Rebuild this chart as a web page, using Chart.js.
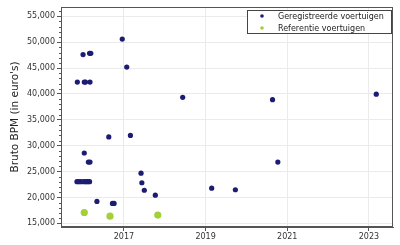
<!DOCTYPE html>
<html>
<head>
<meta charset="utf-8">
<script src="https://cdn.jsdelivr.net/npm/chart.js@4"></script>
<style>
  html, body { margin: 0; padding: 0; background: #fff; }
  #wrap { width: 400px; height: 245px; }
</style>
</head>
<body>
<div id="wrap"><canvas id="chart" width="400" height="245"></canvas></div>
<script>
// registered vehicles: year of registration vs gross BPM
const regYears = [
  2015.86, 2016.03, 2016.06, 2016.17, 2016.00, 2016.16, 2016.19, 2016.96, 2017.07,
  2018.44, 2020.64, 2023.18, 2016.63, 2017.16, 2016.03, 2016.13, 2016.17,
  2015.85, 2015.90, 2015.95, 2016.02, 2016.07, 2016.11, 2016.16,
  2017.42, 2017.44, 2017.50, 2017.77, 2016.34, 2016.72, 2016.76,
  2019.15, 2019.73, 2020.77
];
const regBpm = [
  42300, 42300, 42300, 42300, 47600, 47850, 47850, 50600, 45200,
  39350, 38900, 39950, 31700, 32000, 28600, 26850, 26850,
  23050, 23050, 23050, 23050, 23050, 23050, 23050,
  24700, 22850, 21400, 20450, 19250, 18850, 18850,
  21800, 21500, 26850
];

// reference vehicles
const refYears = [2016.03, 2016.66, 2017.83];
const refBpm = [17100, 16400, 16600];

const yearTicks = [2017, 2019, 2021, 2023];
const bpmTicks = [15000, 20000, 25000, 30000, 35000, 40000, 45000, 50000, 55000];

const toPoints = (xs, ys) => xs.map((x, i) => ({ x: x, y: ys[i] }));

const FONT = 'DejaVu Sans';
const AXIS = '#555';

// frame, minor ticks and legend box
const extras = {
  id: 'extras',
  afterDraw(chart) {
    const { ctx, chartArea: a } = chart;
    const y = chart.scales.y;
    ctx.save();
    ctx.strokeStyle = AXIS;
    ctx.lineWidth = 1;
    ctx.strokeRect(a.left + 0.5, a.top + 0.5, a.right - a.left - 1, a.bottom - a.top - 1);

    // minor ticks every 1000
    ctx.beginPath();
    for (let v = 15000; v <= 56000; v += 1000) {
      if (v % 5000 === 0) continue;
      const py = Math.round(y.getPixelForValue(v)) + 0.5;
      ctx.moveTo(a.left - 2, py);
      ctx.lineTo(a.left, py);
    }
    ctx.stroke();

    // legend
    const lx = 247, ly = 10, lw = 144, lh = 23;
    ctx.fillStyle = '#fff';
    ctx.fillRect(lx, ly, lw, lh);
    ctx.strokeStyle = '#444';
    ctx.strokeRect(lx + 0.5, ly + 0.5, lw, lh);
    ctx.font = '8px "' + FONT + '"';
    ctx.textBaseline = 'middle';
    chart.data.datasets.forEach((ds, i) => {
      const cy = ly + 6 + i * 12;
      ctx.fillStyle = ds.backgroundColor;
      ctx.beginPath();
      ctx.arc(lx + 15, cy, 1.8, 0, Math.PI * 2);
      ctx.fill();
      ctx.fillStyle = '#222';
      ctx.fillText(ds.label, lx + 31, cy + 0.5);
    });
    ctx.restore();
  }
};

new Chart(document.getElementById('chart'), {
  type: 'scatter',
  data: {
    datasets: [
      {
        label: 'Geregistreerde voertuigen',
        data: toPoints(regYears, regBpm),
        backgroundColor: '#1c1c72',
        borderColor: '#1c1c72',
        pointRadius: 2.6,
        borderWidth: 0
      },
      {
        label: 'Referentie voertuigen',
        data: toPoints(refYears, refBpm),
        backgroundColor: '#a3cf3a',
        borderColor: '#a3cf3a',
        pointRadius: 3.6,
        borderWidth: 0
      }
    ]
  },
  options: {
    responsive: false,
    animation: false,
    events: [],
    layout: { padding: { top: 7, right: 7, left: 0, bottom: 0 } },
    plugins: { legend: { display: false }, tooltip: { enabled: false } },
    scales: {
      x: {
        type: 'linear',
        min: 2015.46,
        max: 2023.59,
        afterBuildTicks: s => { s.ticks = yearTicks.map(v => ({ value: v })); },
        afterFit: s => { s.height = 18; },
        ticks: {
          font: { family: FONT, size: 8 },
          color: '#333',
          padding: 1,
          maxRotation: 0,
          callback: v => String(v)
        },
        grid: { color: '#ebebeb', tickColor: AXIS, tickLength: 4 },
        border: { color: AXIS }
      },
      y: {
        min: 14300,
        max: 56800,
        afterBuildTicks: s => { s.ticks = bpmTicks.map(v => ({ value: v })); },
        afterFit: s => { s.width = 61; },
        ticks: {
          font: { family: FONT, size: 8 },
          color: '#333',
          padding: 2,
          callback: v => v.toLocaleString('en-US')
        },
        grid: { color: '#ebebeb', tickColor: AXIS, tickLength: 4 },
        border: { color: AXIS },
        title: {
          display: true,
          text: "Bruto BPM (in euro's)",
          font: { family: FONT, size: 10.5 },
          color: '#222',
          padding: { top: 9, bottom: 0 }
        }
      }
    }
  },
  plugins: [extras]
});
</script>
</body>
</html>
